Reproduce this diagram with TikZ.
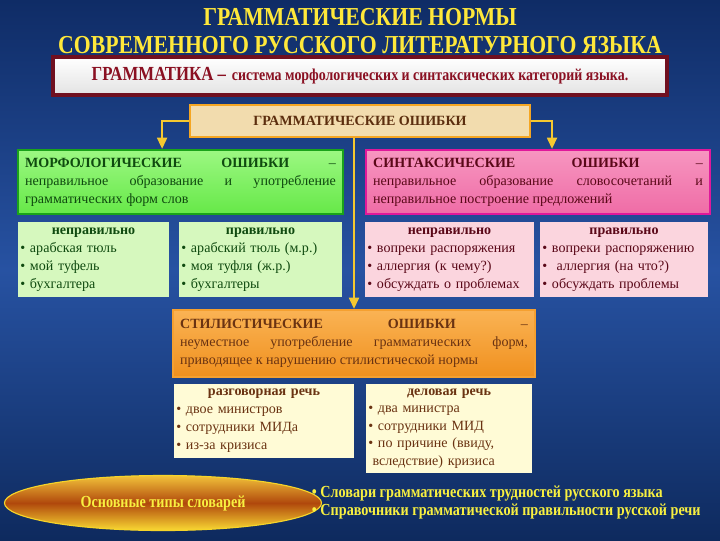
\documentclass[tikz,border=0pt]{standalone}
\usepackage{fontspec}
\setmainfont{Liberation Serif}
\newfontfamily\condfont[FakeStretch=0.84]{Liberation Serif}
\usepackage{tikz}
\usetikzlibrary{shapes.geometric, arrows.meta, positioning}

\definecolor{bgtop}{HTML}{0F2C66}
\definecolor{bgmid}{HTML}{2752A2}
\definecolor{bgbot}{HTML}{0E2A5E}
\definecolor{titleyellow}{HTML}{FFE83A}
\definecolor{gramred}{HTML}{701020}
\definecolor{gramtext}{HTML}{8A1022}
\definecolor{errfill}{HTML}{F2DCAE}
\definecolor{errdraw}{HTML}{F5A623}
\definecolor{errtext}{HTML}{5C2E0E}
\definecolor{morphtop}{HTML}{9CF882}
\definecolor{morphbot}{HTML}{66E848}
\definecolor{morphdraw}{HTML}{1AA31A}
\definecolor{morphtext}{HTML}{0F4A0F}
\definecolor{morphsub}{HTML}{D6F8BE}
\definecolor{synttop}{HTML}{F796C0}
\definecolor{syntbot}{HTML}{EF6CA6}
\definecolor{syntdraw}{HTML}{E0189A}
\definecolor{synttext}{HTML}{5A0818}
\definecolor{syntsub}{HTML}{FBD5DE}
\definecolor{styltop}{HTML}{FAB354}
\definecolor{stylbot}{HTML}{F0901E}
\definecolor{styldraw}{HTML}{F5A030}
\definecolor{styltext}{HTML}{6A3312}
\definecolor{stylsub}{HTML}{FFFBD6}
\definecolor{arrowyellow}{HTML}{F5C830}
\definecolor{dictyellow}{HTML}{F8F040}
\definecolor{dictedge}{HTML}{F2C23A}
\definecolor{dictmid}{HTML}{B0480C}

\begin{document}
\begin{tikzpicture}[
    x=0.025cm, y=-0.025cm,
    title/.style={text=titleyellow, align=center,
        font=\condfont\bfseries\fontsize{18.4}{19.3}\selectfont},
    mainbox/.style={rectangle, line width=1.5pt, inner xsep=0.18cm, inner ysep=0pt,
        align=justify, font=\fontsize{10}{12.8}\selectfont},
    subbox/.style={rectangle, inner xsep=0.06cm, inner ysep=0pt,
        align=left, font=\fontsize{10}{12.8}\selectfont},
    morphbox/.style={mainbox, draw=morphdraw, top color=morphtop, bottom color=morphbot, text=morphtext},
    syntbox/.style={mainbox, draw=syntdraw, top color=synttop, bottom color=syntbot, text=synttext},
    stylbox/.style={mainbox, draw=styldraw, top color=styltop, bottom color=stylbot, text=styltext},
    conn/.style={draw=arrowyellow, line width=1.6pt, -{Triangle[length=8pt,width=7pt]}},
    dicttext/.style={text=dictyellow, font=\condfont\bfseries\fontsize{12}{12.8}\selectfont}
]

% background
\useasboundingbox (0,0) rectangle (720,540);
\shade[top color=bgtop, bottom color=bgbot, middle color=bgmid] (0,0) rectangle (720,540);

% title
\node[title] (title) at (360,31) {ГРАММАТИЧЕСКИЕ НОРМЫ\\СОВРЕМЕННОГО РУССКОГО ЛИТЕРАТУРНОГО ЯЗЫКА};

\node[rectangle, draw=gramred, line width=2.5pt, top color=white, bottom color=gray!22,
      minimum width=15.35cm, minimum height=0.95cm, text=gramtext,
      font=\condfont\bfseries] (gram) at (360,76)
    {{\fontsize{14.2}{16}\selectfont ГРАММАТИКА –}\ \ {\fontsize{11.8}{13}\selectfont система морфологических и синтаксических категорий языка.}};

\node[rectangle, draw=errdraw, line width=2pt, fill=errfill, text=errtext,
      minimum width=8.5cm, minimum height=0.8cm,
      font=\bfseries\fontsize{10}{12}\selectfont] (err-label) at (360,121) {ГРАММАТИЧЕСКИЕ ОШИБКИ};

% Error type nodes
\node[morphbox, text width=7.765cm, minimum height=1.6cm] (morph) at (180.5,182)
    {\textbf{МОРФОЛОГИЧЕСКИЕ}\hfill\textbf{ОШИБКИ}\hfill –\\
     неправильное\hfill образование\hfill и\hfill употребление\\
     грамматических форм слов};

\node[syntbox, text width=8.24cm, minimum height=1.6cm] (synt) at (538,182)
    {\textbf{СИНТАКСИЧЕСКИЕ}\hfill\textbf{ОШИБКИ}\hfill –\\
     неправильное\hfill образование\hfill словосочетаний\hfill и\\
     неправильное построение предложений};

\node[stylbox, text width=8.69cm, minimum height=1.675cm] (styl) at (354,343.5)
    {\textbf{СТИЛИСТИЧЕСКИЕ}\hfill\textbf{ОШИБКИ}\hfill –\\
     неуместное\hfill употребление\hfill грамматических\hfill форм,\\
     приводящее к нарушению стилистической нормы};

% Example nodes
\node[subbox, fill=morphsub, text=morphtext, text width=3.655cm, minimum height=1.875cm] (M-1) at (93.5,259.5)
    {\centerline{\textbf{неправильно}}
     • арабская тюль\\• мой туфель\\• бухгалтера};
\node[subbox, fill=morphsub, text=morphtext, text width=3.955cm, minimum height=1.875cm] (M-2) at (260.5,259.5)
    {\centerline{\textbf{правильно}}
     • арабский тюль (м.р.)\\• моя туфля (ж.р.)\\• бухгалтеры};

\node[subbox, fill=syntsub, text=synttext, text width=4.105cm, minimum height=1.875cm] (S-1) at (449.5,259.5)
    {\centerline{\textbf{неправильно}}
     • вопреки распоряжения\\• аллергия (к чему?)\\• обсуждать о проблемах};
\node[subbox, fill=syntsub, text=synttext, text width=4.08cm, minimum height=1.875cm] (S-2) at (624,259.5)
    {\centerline{\textbf{правильно}}
     • вопреки распоряжению\\•\ \ аллергия (на что?)\\• обсуждать проблемы};

\node[subbox, fill=stylsub, text=styltext, text width=4.38cm, minimum height=1.85cm] (ST-1) at (264,421)
    {\centerline{\textbf{разговорная речь}}
     • двое министров\\• сотрудники МИДа\\• из-за кризиса};
\node[subbox, fill=stylsub, text=styltext, text width=4.03cm, minimum height=2.225cm,
      font=\fontsize{10}{12.5}\selectfont] (ST-2) at (449,428.5)
    {\centerline{\textbf{деловая речь}}
     • два министра\\• сотрудники МИД\\• по причине (ввиду,\\\hspace*{3pt}вследствие) кризиса};

% Connections
\draw[conn] (err-label.west) -| ([xshift=-0.46cm]morph.north);
\draw[conn] (err-label.east) -| ([xshift=0.35cm]synt.north);
\draw[conn] (err-label.south -| styl.north) -- (styl.north);

% Dictionaries
\node[ellipse, draw=dictedge!70!yellow, line width=0.8pt, top color=dictedge, bottom color=dictyellow!80!orange, middle color=dictmid,
      minimum width=7.925cm, minimum height=1.375cm, dicttext] (dict) at (163,503) {Основные типы словарей};
\node[dicttext, anchor=west, align=left] (dict-list) at (307,502)
    {• Словари грамматических трудностей русского языка\\• Справочники грамматической правильности русской речи};

\end{tikzpicture}
\end{document}
